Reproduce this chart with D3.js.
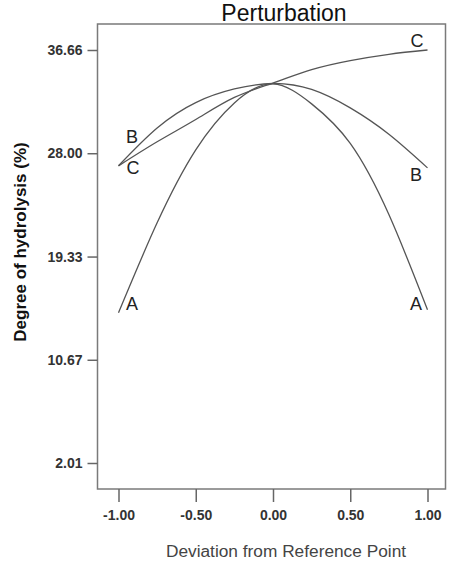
<!DOCTYPE html>
<html>
<head>
<meta charset="utf-8">
<script src="https://cdn.jsdelivr.net/npm/d3@7"></script>
<style>
    body { margin: 0; background: #fff; }
    svg { display: block; font-family: "Liberation Sans", Arial, sans-serif; }
</style>
</head>
<body>
<div id="wide"></div>
<script>
// deviation from reference point, sampled along the curves
const deviation = [-1, -0.75, -0.5, -0.25, 0, 0.25, 0.5, 0.75, 1];
const seriesA = [14.61, 22.16, 28.28, 32.22, 33.81, 32.14, 28.82, 22.85, 14.86];
const seriesB = [26.95, 30.12, 32.25, 33.39, 33.85, 33.35, 31.80, 29.59, 26.77];
const seriesC = [26.94, 28.96, 30.83, 32.68, 33.89, 35.01, 35.77, 36.30, 36.66];
const factorNames = ["A", "B", "C"];
const yTicks = [2.01, 10.67, 19.33, 28.00, 36.66];
const xTicks = [-1.00, -0.50, 0.00, 0.50, 1.00];

const params = {
    width: 451,
    height: 561,
    frame: { left: 97.5, right: 445.5, top: 24, bottom: 489 }
};

// label offsets from curve ends (px), [left end, right end]
const labelOffsets = {
    A: [[13.5, -9], [-11.5, -6]],
    B: [[13.5, -29], [-11.5, 7]],
    C: [[14.5, 2], [-10.5, -9]]
};

// plain hyphen for negatives, like the original
const fmt = d => d3.format(".2f")(d).replace("\u2212", "-");

function make_chart() {
    d3.select("#wide")
        .append("svg")
        .attr("id", "chart")
        .attr("width", params.width)
        .attr("height", params.height);

    let chart = d3.select("#chart");
    const f = params.frame;

    const x = d3.scaleLinear().domain([-1, 1]).range([118.5, 427.5]);
    const y = d3.scaleLinear().domain([2.01, 36.66]).range([463, 50]);

    // title
    chart.append("text")
        .attr("x", 284).attr("y", 21)
        .attr("text-anchor", "middle")
        .attr("font-size", 23)
        .attr("fill", "#111")
        .text("Perturbation");

    // frame
    chart.append("rect")
        .attr("x", f.left).attr("y", f.top)
        .attr("width", f.right - f.left)
        .attr("height", f.bottom - f.top)
        .attr("fill", "none")
        .attr("stroke", "#7a7a7a")
        .attr("stroke-width", 1.5);

    // y axis
    const yAxis = d3.axisLeft(y)
        .tickValues(yTicks)
        .tickFormat(fmt)
        .tickSize(10)
        .tickPadding(5);
    const gy = chart.append("g")
        .attr("transform", "translate(" + f.left + ",0)")
        .call(yAxis);
    gy.select(".domain").remove();
    gy.selectAll("line").attr("stroke", "#666").attr("stroke-width", 1.5);
    gy.selectAll("text")
        .attr("font-size", 14)
        .attr("font-weight", "bold")
        .attr("fill", "#333")
        .attr("font-family", "Liberation Sans, Arial, sans-serif");

    // x axis
    const xAxis = d3.axisBottom(x)
        .tickValues(xTicks)
        .tickFormat(fmt)
        .tickSize(13)
        .tickPadding(8);
    const gx = chart.append("g")
        .attr("transform", "translate(0," + f.bottom + ")")
        .call(xAxis);
    gx.select(".domain").remove();
    gx.selectAll("line").attr("stroke", "#666").attr("stroke-width", 1.5);
    gx.selectAll("text")
        .attr("font-size", 14)
        .attr("font-weight", "bold")
        .attr("fill", "#333")
        .attr("font-family", "Liberation Sans, Arial, sans-serif");

    // axis titles
    chart.append("text")
        .attr("transform", "translate(26,242) rotate(-90)")
        .attr("text-anchor", "middle")
        .attr("font-size", 17)
        .attr("font-weight", "bold")
        .attr("fill", "#111")
        .text("Degree of hydrolysis (%)");

    chart.append("text")
        .attr("x", 286).attr("y", 557)
        .attr("text-anchor", "middle")
        .attr("font-size", 17.3)
        .attr("fill", "#444")
        .text("Deviation from Reference Point");

    // curves
    const series = [seriesA, seriesB, seriesC];
    const line = d3.line()
        .x((d, i) => x(deviation[i]))
        .y(d => y(d))
        .curve(d3.curveNatural);

    chart.append("g")
        .attr("class", "curves")
        .selectAll("path")
        .data(series)
        .enter().append("path")
        .attr("d", line)
        .attr("fill", "none")
        .attr("stroke", "#555")
        .attr("stroke-width", 1.3);

    // curve labels at both ends
    series.forEach((s, k) => {
        const name = factorNames[k];
        const ends = [[deviation[0], s[0]], [deviation[deviation.length - 1], s[s.length - 1]]];
        ends.forEach((e, j) => {
            const off = labelOffsets[name][j];
            chart.append("text")
                .attr("x", x(e[0]) + off[0])
                .attr("y", y(e[1]) + off[1])
                .attr("dy", "0.36em")
                .attr("text-anchor", "middle")
                .attr("font-size", 18)
                .attr("fill", "#222")
                .text(name);
        });
    });
}

make_chart();
</script>
</body>
</html>
